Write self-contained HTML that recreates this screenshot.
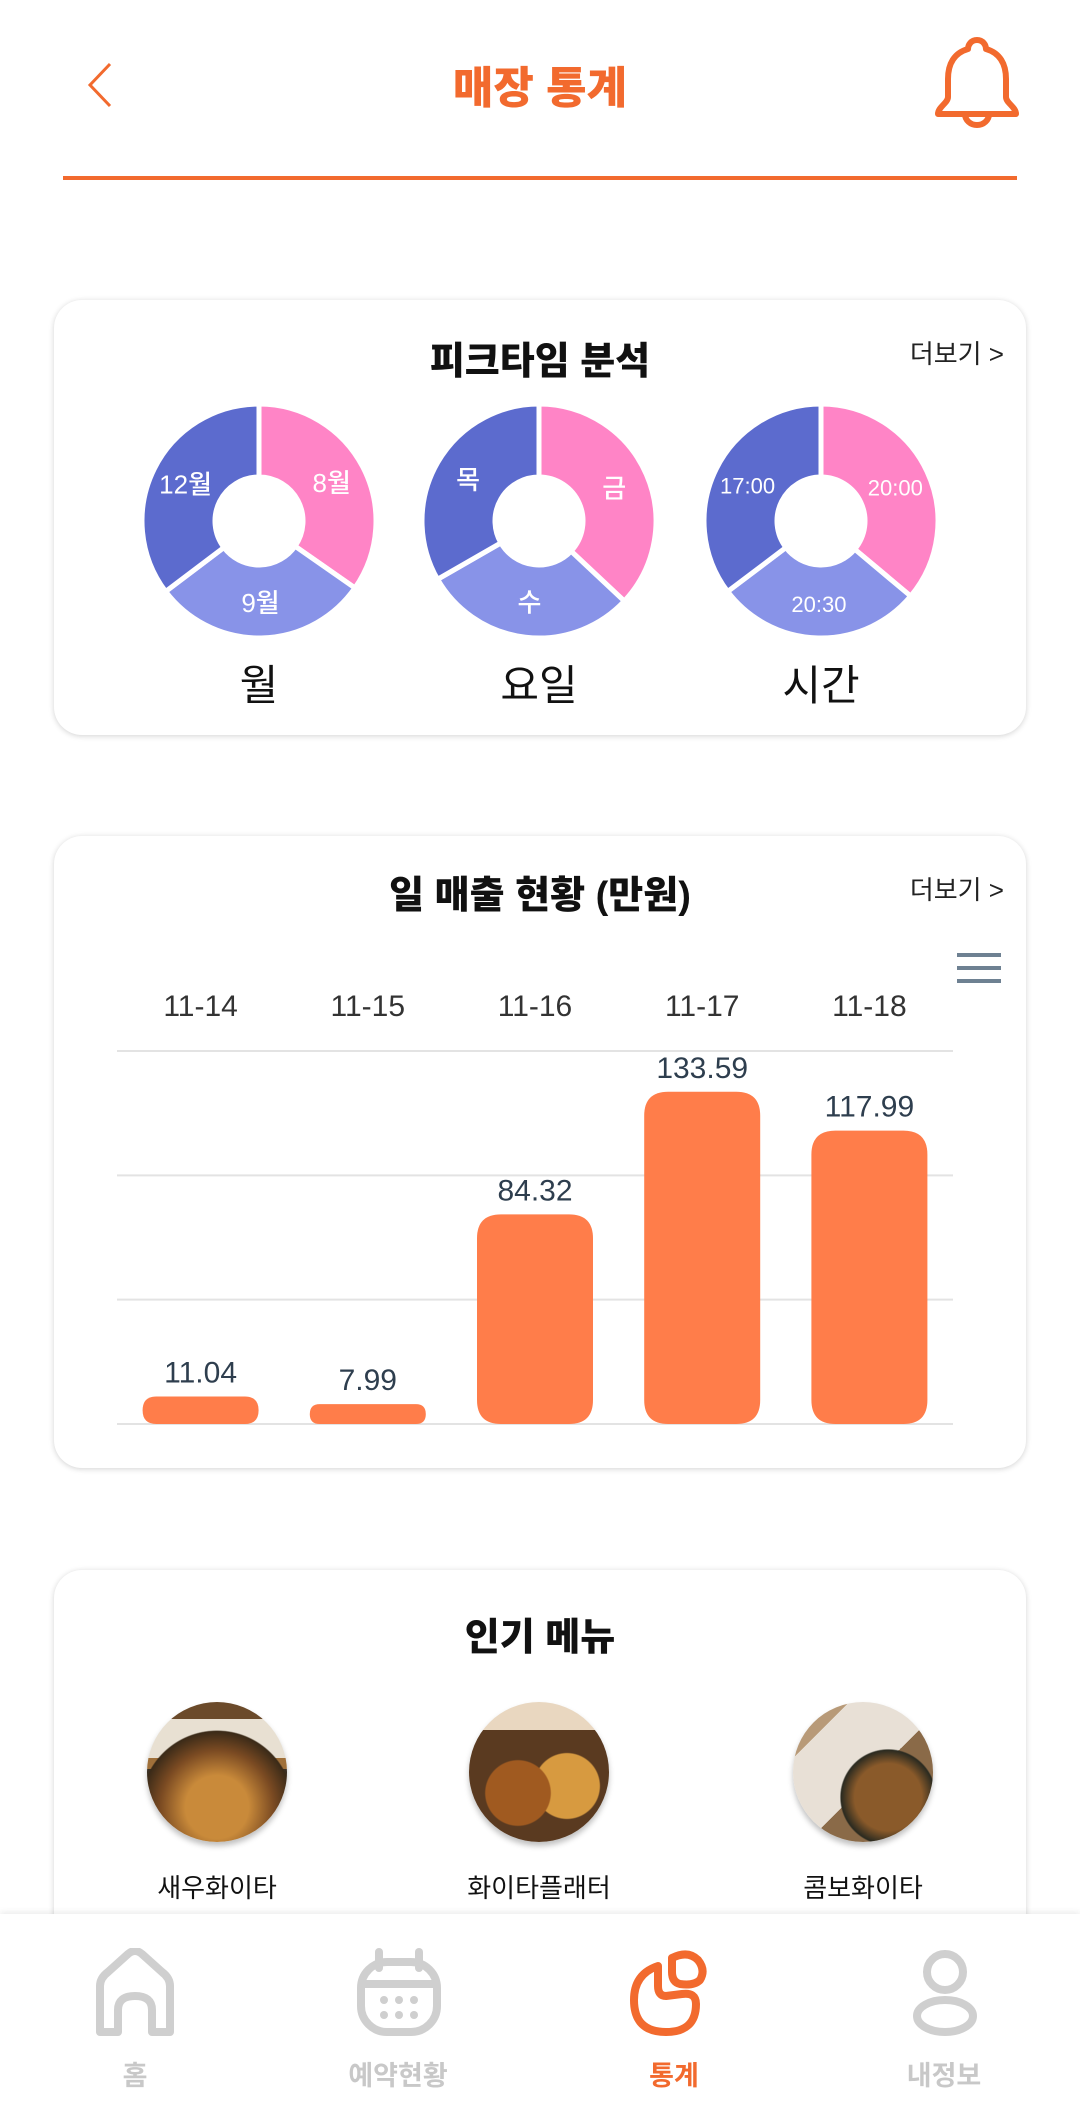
<!DOCTYPE html>
<html lang="ko"><head><meta charset="utf-8">
<style>
html,body{margin:0;padding:0;background:#fff;}
body{width:1080px;height:2114px;position:relative;overflow:hidden;font-family:"Liberation Sans","Noto Sans CJK KR",sans-serif;}
.abs{position:absolute;}
.card{position:absolute;left:54px;width:972px;background:#fff;border-radius:28px;box-shadow:0 1px 6px rgba(0,0,0,0.18);}
.ctitle{position:absolute;left:0;width:100%;text-align:center;font-weight:900;font-size:38px;color:#111;}
.more{position:absolute;right:22px;font-size:26px;color:#222;}
.nav-label{position:absolute;width:200px;text-align:center;font-size:27px;font-weight:bold;color:#c8c8c8;}
</style></head>
<body>
<div>
  <svg class="abs" style="left:80px;top:60px" width="40" height="50"><polyline points="30,4 10,25 30,46" fill="none" stroke="#F26A2E" stroke-width="3"/></svg>
  <div class="abs" style="left:0;width:1080px;top:52px;text-align:center;font-size:44px;font-weight:900;color:#F26A2E;">매장 통계</div>
  <svg class="abs" style="left:930px;top:32px" width="95" height="100" viewBox="0 0 95 100">
    <path d="M47,8 c-6,0 -9,5 -9,9 c-14,4 -20,15 -20,30 l0,18 c0,6 -10,10 -10,17 l78,0 c0,-7 -10,-11 -10,-17 l0,-18 c0,-15 -6,-26 -20,-30 c0,-4 -3,-9 -9,-9z" fill="none" stroke="#F26A2E" stroke-width="6" stroke-linejoin="round"/>
    <path d="M35,82 a12,11 0 0 0 24,0" fill="none" stroke="#F26A2E" stroke-width="6"/>
  </svg>
  <div class="abs" style="left:63px;top:176px;width:954px;height:4px;background:#F26A2E;"></div>
</div>

<div class="card" style="top:300px;height:435px;">
  <div class="ctitle" style="top:30px;">피크타임 분석</div>
  <div class="more" style="top:34px;">더보기 &gt;</div>
</div>
<svg id="donuts" class="abs" style="left:0;top:0" width="1080" height="760"></svg>

<div class="card" style="top:836px;height:632px;">
  <div class="ctitle" style="top:28px;">일 매출 현황 (만원)</div>
  <div class="more" style="top:34px;">더보기 &gt;</div>
</div>
<svg id="bars" class="abs" style="left:0;top:0" width="1080" height="1470"></svg>
<svg class="abs" style="left:956px;top:952px" width="46" height="34">
  <rect x="1" y="1" width="44" height="4" fill="#6E8192"/><rect x="1" y="14" width="44" height="4" fill="#6E8192"/><rect x="1" y="27" width="44" height="4" fill="#6E8192"/>
</svg>

<div class="card" style="top:1570px;height:500px;">
  <div class="ctitle" style="top:36px;">인기 메뉴</div>
</div>
<div id="menus"></div>

<div class="abs" style="left:0;top:1914px;width:1080px;height:200px;background:#fff;box-shadow:0 -2px 6px rgba(0,0,0,0.08);">
  <svg class="abs" style="left:90px;top:34px" width="90" height="90">
    <path d="M10,84 L10,38 Q10,30 18,24 L38,6 Q45,0 52,6 L72,24 Q80,30 80,38 L80,84 L62,84 L62,62 Q62,48 45,48 Q28,48 28,62 L28,84 Z" fill="none" stroke="#cfcfcf" stroke-width="8" stroke-linejoin="round"/>
  </svg>
  <div class="nav-label" style="left:35px;top:140px;">홈</div>
  <svg class="abs" style="left:355px;top:34px" width="90" height="90">
    <rect x="6" y="14" width="76" height="70" rx="26" fill="none" stroke="#cfcfcf" stroke-width="8"/>
    <line x1="6" y1="36" x2="82" y2="36" stroke="#cfcfcf" stroke-width="8"/>
    <line x1="24" y1="4" x2="24" y2="20" stroke="#cfcfcf" stroke-width="8" stroke-linecap="round"/>
    <line x1="64" y1="4" x2="64" y2="20" stroke="#cfcfcf" stroke-width="8" stroke-linecap="round"/>
    <g fill="#cfcfcf"><circle cx="29" cy="52" r="4"/><circle cx="44" cy="52" r="4"/><circle cx="59" cy="52" r="4"/><circle cx="29" cy="67" r="4"/><circle cx="44" cy="67" r="4"/><circle cx="59" cy="67" r="4"/></g>
  </svg>
  <div class="nav-label" style="left:298px;top:140px;">예약현황</div>
  <svg class="abs" style="left:628px;top:34px" width="92" height="92">
    <path d="M30,18 Q6,26 6,52 Q6,84 38,84 Q68,84 68,56 Q68,44 54,46 L38,48 Q30,48 30,38 Z" fill="none" stroke="#F26A2E" stroke-width="8" stroke-linejoin="round"/>
    <path d="M44,10 Q60,2 70,12 Q78,22 72,32 Q66,38 52,36 Q44,34 44,24 Z" fill="none" stroke="#F26A2E" stroke-width="8" stroke-linejoin="round"/>
  </svg>
  <div class="nav-label" style="left:574px;top:140px;color:#F26A2E;">통계</div>
  <svg class="abs" style="left:900px;top:34px" width="90" height="90">
    <circle cx="45" cy="24" r="18" fill="none" stroke="#cfcfcf" stroke-width="8"/>
    <ellipse cx="45" cy="68" rx="28" ry="16" fill="none" stroke="#cfcfcf" stroke-width="8"/>
  </svg>
  <div class="nav-label" style="left:844px;top:140px;">내정보</div>
</div>

<script>
// ---- Peak time donut data ----
const donutTitles = ["월", "요일", "시간"];
const donutLabels = [["8월", "9월", "12월"], ["금", "수", "목"], ["20:00", "20:30", "17:00"]];
const donutValues = [[34.7, 30.0, 35.3], [37.0, 29.7, 33.3], [36.1, 28.6, 35.3]];
const donutColors = ["#FF84C6", "#8893E8", "#5C6BCE"];

const NS = "http://www.w3.org/2000/svg";
const dsvg = document.getElementById("donuts");
const dCx = [259, 539, 821], dCy = 521, rOut = 117, rIn = 44, rLab = 82;
function pt(cx, cy, r, a) { return [cx + r * Math.sin(a), cy - r * Math.cos(a)]; }
donutValues.forEach((vals, i) => {
  const total = vals.reduce((a, b) => a + b, 0);
  let a0 = 0;
  vals.forEach((v, j) => {
    const a1 = a0 + v / total * Math.PI * 2;
    const p1 = pt(dCx[i], dCy, rOut, a0), p2 = pt(dCx[i], dCy, rOut, a1);
    const p3 = pt(dCx[i], dCy, rIn, a1), p4 = pt(dCx[i], dCy, rIn, a0);
    const large = (a1 - a0) > Math.PI ? 1 : 0;
    const path = document.createElementNS(NS, "path");
    path.setAttribute("d", `M${p1} A${rOut},${rOut} 0 ${large} 1 ${p2} L${p3} A${rIn},${rIn} 0 ${large} 0 ${p4} Z`);
    path.setAttribute("fill", donutColors[j]);
    path.setAttribute("stroke", "#fff");
    path.setAttribute("stroke-width", "5");
    
    
    dsvg.appendChild(path);
    const m = (a0 + a1) / 2;
    const lp = pt(dCx[i], dCy, rLab, m);
    const t = document.createElementNS(NS, "text");
    t.setAttribute("x", lp[0]); t.setAttribute("y", lp[1] + 9);
    t.setAttribute("text-anchor", "middle");
    t.setAttribute("fill", "#fff");
    t.setAttribute("font-weight", "500");
    t.setAttribute("font-size", donutLabels[i][j].length > 3 ? "22" : "26");
    t.setAttribute("font-family", '"Liberation Sans","Noto Sans CJK KR",sans-serif');
    t.textContent = donutLabels[i][j];
    
    
    dsvg.appendChild(t);
    a0 = a1;
  });
  const tt = document.createElementNS(NS, "text");
  tt.setAttribute("x", dCx[i]); tt.setAttribute("y", 700);
  tt.setAttribute("text-anchor", "middle");
  tt.setAttribute("font-size", "42");
  tt.setAttribute("fill", "#111");
  tt.setAttribute("font-family", '"Liberation Sans","Noto Sans CJK KR",sans-serif');
  tt.textContent = donutTitles[i];
  
  
  dsvg.appendChild(tt);
});

// ---- Daily sales bar data ----
const salesDates = ["11-14", "11-15", "11-16", "11-17", "11-18"];
const salesValues = [11.04, 7.99, 84.32, 133.59, 117.99];
const salesTicks = [0, 50, 100, 150];

const bsvg = document.getElementById("bars");
const plotL = 117, plotR = 953, baseY = 1424, topY = 1051, yMax = 150;
const yScale = v => baseY - v / yMax * (baseY - topY);
const band = (plotR - plotL) / salesDates.length;
const xCenter = i => plotL + band * (i + 0.5);
const barW = 116;
salesTicks.forEach(t => {
  const l = document.createElementNS(NS, "line");
  l.setAttribute("x1", plotL); l.setAttribute("x2", plotR);
  l.setAttribute("y1", yScale(t)); l.setAttribute("y2", yScale(t));
  l.setAttribute("stroke", "#e3e3e3"); l.setAttribute("stroke-width", "2");
  
  
  bsvg.appendChild(l);
});
salesDates.forEach((d, i) => {
  const t = document.createElementNS(NS, "text");
  t.setAttribute("x", xCenter(i)); t.setAttribute("y", 1016);
  t.setAttribute("text-anchor", "middle"); t.setAttribute("font-size", "30");
  t.setAttribute("fill", "#333"); t.setAttribute("font-family", '"Liberation Sans",sans-serif');
  t.textContent = d;
  
  
  bsvg.appendChild(t);
});
salesValues.forEach((v, i) => {
  const y = yScale(v), h = baseY - y;
  const r = Math.min(24, h / 2);
  const x0 = xCenter(i) - barW / 2, x1 = x0 + barW;
  const p = document.createElementNS(NS, "path");
  p.setAttribute("d", `M${x0},${baseY - r} L${x0},${y + r} Q${x0},${y} ${x0 + r},${y} L${x1 - r},${y} Q${x1},${y} ${x1},${y + r} L${x1},${baseY - r} Q${x1},${baseY} ${x1 - r},${baseY} L${x0 + r},${baseY} Q${x0},${baseY} ${x0},${baseY - r} Z`);
  p.setAttribute("fill", "#FF7D4A");
  
  
  bsvg.appendChild(p);
  const t = document.createElementNS(NS, "text");
  t.setAttribute("x", xCenter(i)); t.setAttribute("y", y - 14);
  t.setAttribute("text-anchor", "middle"); t.setAttribute("font-size", "30");
  t.setAttribute("font-weight", "500");
  t.setAttribute("fill", "#2E3E4E"); t.setAttribute("font-family", '"Liberation Sans",sans-serif');
  t.textContent = v.toFixed(2);
  
  
  bsvg.appendChild(t);
});

// ---- Popular menu ----
const menuNames = ["새우화이타", "화이타플래터", "콤보화이타"];
const menuX = [217, 539, 863];
const menuBg = [
  "radial-gradient(circle at 50% 75%, #c98a3a 0 25%, #7a4a22 45%, #3a2a18 60%, transparent 61%), linear-gradient(#6b4a2a 0 12%, #e8e0d2 12% 40%, #a0703a 40% 48%, #3a2f22 48%)",
  "radial-gradient(circle at 35% 65%, #a05a20 0 25%, transparent 26%), radial-gradient(circle at 70% 60%, #d79a40 0 25%, transparent 26%), linear-gradient(#e9d7c0 0 20%, #5a3a20 20%)",
  "radial-gradient(circle at 68% 68%, #8a5a2a 0 25%, #2a2a20 35%, transparent 36%), linear-gradient(135deg, #b89a78 0 20%, #e8e0d6 20% 55%, #8a6a48 55%)"
];
const menus = document.getElementById("menus");
menuNames.forEach((n, i) => {
  const c = document.createElement("div");
  c.className = "abs";
  c.style.cssText = `left:${menuX[i] - 70}px;top:1702px;width:140px;height:140px;border-radius:50%;background:${menuBg[i]};box-shadow:0 4px 6px rgba(0,0,0,0.25);`;
  
  
  menus.appendChild(c);
  const l = document.createElement("div");
  l.className = "abs";
  l.style.cssText = `left:${menuX[i] - 120}px;top:1868px;width:240px;text-align:center;font-size:26px;color:#111;`;
  l.textContent = n;
  
  
  menus.appendChild(l);
});
</script>
</body></html>
